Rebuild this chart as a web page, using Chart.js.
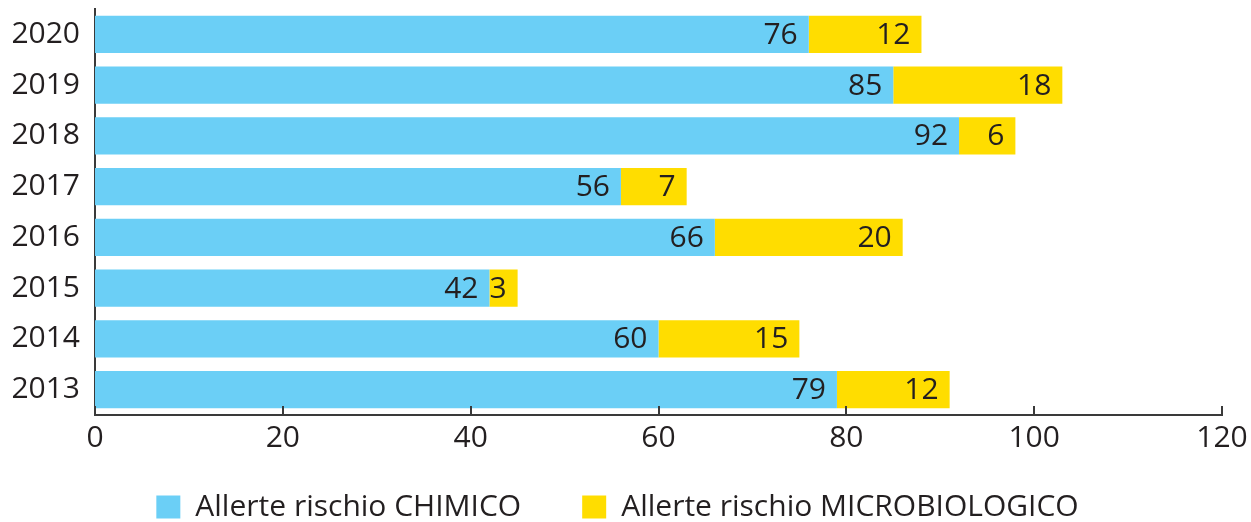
<!DOCTYPE html>
<html>
<head>
<meta charset="utf-8">
<script src="https://cdn.jsdelivr.net/npm/chart.js@4.4.1/dist/chart.umd.min.js"></script>
<style>
  html, body { margin: 0; padding: 0; background: #ffffff; }
  #wrap { width: 1251px; height: 522px; position: relative; }
</style>
</head>
<body>
<div id="wrap"><canvas id="chart" width="1251" height="522"></canvas></div>
<script>
// Annual alerts by risk type
const years = ['2020', '2019', '2018', '2017', '2016', '2015', '2014', '2013'];
const chimico = [76, 85, 92, 56, 66, 42, 60, 79];
const microbiologico = [12, 18, 6, 7, 20, 3, 15, 12];
const xTicks = [0, 20, 40, 60, 80, 100, 120];

const seriesNames = ['Allerte rischio CHIMICO', 'Allerte rischio MICROBIOLOGICO'];
const seriesColors = ['#6BCFF6', '#FFDD00'];

const FONT = '"Open Sans", "Liberation Sans", sans-serif';
const TEXT = '#231F20';
const AXIS = '#3A3A3A';

// Value labels drawn just inside the end of each bar segment
const valueLabels = {
  id: 'valueLabels',
  afterDatasetsDraw(chart) {
    const ctx = chart.ctx;
    ctx.save();
    ctx.font = '30px ' + FONT;
    ctx.fillStyle = TEXT;
    ctx.textAlign = 'right';
    ctx.textBaseline = 'middle';
    chart.data.datasets.forEach((ds, di) => {
      const meta = chart.getDatasetMeta(di);
      meta.data.forEach((bar, i) => {
        const right = Math.max(bar.x, bar.base);
        ctx.fillText(String(ds.data[i]), right - 11, bar.y + 1);
      });
    });
    ctx.restore();
  }
};

// Short inward tick marks on the value axis
const innerTicks = {
  id: 'innerTicks',
  afterDraw(chart) {
    const x = chart.scales.x;
    const ctx = chart.ctx;
    ctx.save();
    ctx.strokeStyle = AXIS;
    ctx.lineWidth = 2;
    ctx.beginPath();
    xTicks.forEach(v => {
      const px = Math.round(x.getPixelForValue(v));
      ctx.moveTo(px, x.top);
      ctx.lineTo(px, x.top - 9);
    });
    ctx.stroke();
    ctx.restore();
  }
};

// Keep the legend row close under the axis labels while the items stay widely spaced
const legendPlacement = {
  id: 'legendPlacement',
  afterLayout(chart) {
    const lg = chart.legend;
    if (!lg) return;
    lg.top = chart.chartArea.bottom + 16;
    lg.left -= 8;
    lg.right -= 8;
  }
};

new Chart(document.getElementById('chart'), {
  type: 'bar',
  data: {
    labels: years,
    datasets: [
      { label: seriesNames[0], data: chimico, backgroundColor: seriesColors[0], borderWidth: 0 },
      { label: seriesNames[1], data: microbiologico, backgroundColor: seriesColors[1], borderWidth: 0 }
    ]
  },
  options: {
    indexAxis: 'y',
    responsive: false,
    animation: false,
    devicePixelRatio: 1,
    layout: { padding: { top: 9, right: 0, left: 0, bottom: -40 } },
    scales: {
      x: {
        stacked: true,
        min: 0,
        max: 120,
        afterBuildTicks(scale) { scale.ticks = xTicks.map(v => ({ value: v })); },
        afterFit(scale) { scale.paddingRight = 29; },
        grid: { display: false, drawTicks: false },
        border: { display: true, color: AXIS, width: 2 },
        ticks: { color: TEXT, font: { family: FONT, size: 30 }, padding: 5, maxRotation: 0 }
      },
      y: {
        stacked: true,
        afterFit(scale) { scale.width = 95; scale.paddingTop = 0; scale.paddingBottom = 0; },
        grid: { display: false, drawTicks: false },
        border: { display: true, color: AXIS, width: 2 },
        ticks: { color: TEXT, font: { family: FONT, size: 30 }, padding: 15 }
      }
    },
    datasets: { bar: { barPercentage: 0.73, categoryPercentage: 1 } },
    plugins: {
      legend: {
        position: 'bottom',
        labels: {
          color: TEXT,
          font: { family: FONT, size: 30 },
          boxWidth: 24,
          boxHeight: 23,
          padding: 61
        }
      },
      tooltip: { enabled: false }
    }
  },
  plugins: [valueLabels, innerTicks, legendPlacement]
});
</script>
</body>
</html>
